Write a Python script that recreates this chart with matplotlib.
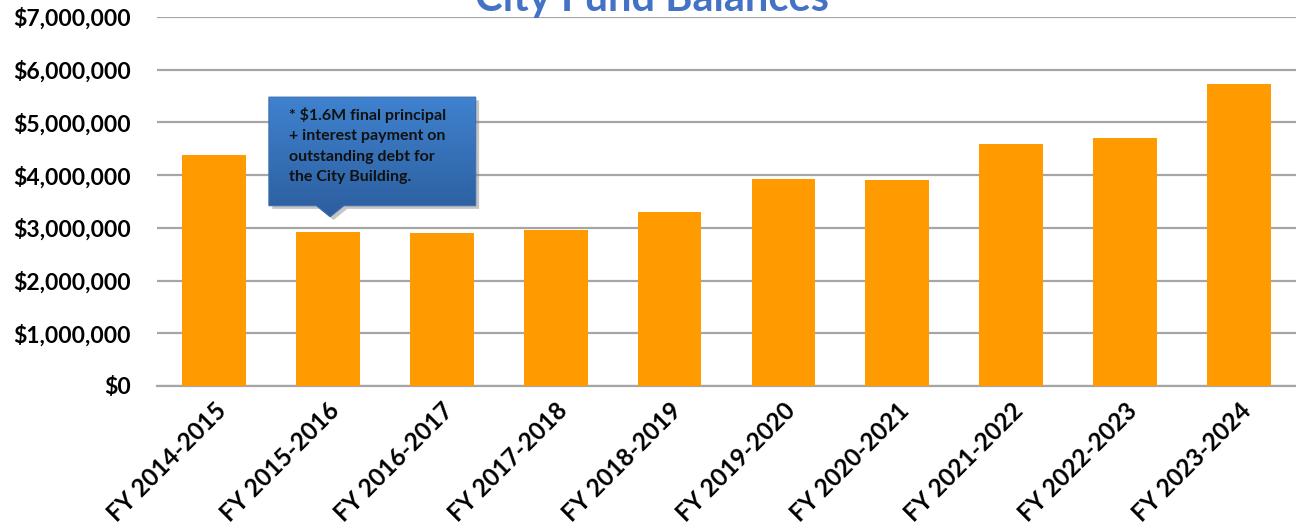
import numpy as np
import matplotlib.pyplot as plt
from matplotlib.patches import Polygon
from matplotlib.ticker import FuncFormatter
from matplotlib.colors import LinearSegmentedColormap

# data
years = ["FY 2014-2015", "FY 2015-2016", "FY 2016-2017", "FY 2017-2018", "FY 2018-2019",
         "FY 2019-2020", "FY 2020-2021", "FY 2021-2022", "FY 2022-2023", "FY 2023-2024"]
balances = [4380000, 2920000, 2900000, 2960000, 3300000,
            3930000, 3910000, 4590000, 4710000, 5730000]
y_ticks = [0, 1000000, 2000000, 3000000, 4000000, 5000000, 6000000, 7000000]
note = "* $1.6M final principal\n+ interest payment on\noutstanding debt for\nthe City Building."

plt.rcParams['font.family'] = ['Lato', 'DejaVu Sans']

fig = plt.figure(figsize=(12.96, 5.29), dpi=100)
ax = fig.add_axes([157/1296, 1-386/529, 1139/1296, 369/529])

x = np.arange(len(years))
ax.bar(x, balances, width=0.56, color='#FF9B00', zorder=3)
ax.set_xlim(-0.5, len(years)-0.5)
ax.set_ylim(0, 7000000)
ax.set_yticks(y_ticks)
ax.yaxis.set_major_formatter(FuncFormatter(lambda v, p: "${:,.0f}".format(v)))
ax.grid(axis='y', color='#A6A6A6', linewidth=1.6, zorder=0)
ax.set_axisbelow(True)
for s in ['top', 'right', 'left']:
    ax.spines[s].set_visible(False)
ax.spines['bottom'].set_color('#A6A6A6')
ax.spines['bottom'].set_linewidth(1.6)
ax.tick_params(length=0)
ax.tick_params(axis='y', pad=19)
for lab in ax.get_yticklabels():
    lab.set_fontsize(16.5)
    lab.set_fontweight('bold')
ax.set_xticks(x)
ax.set_xticklabels(years, rotation=45, ha='right', rotation_mode='anchor',
                   fontsize=17.5, fontweight='bold')
ax.tick_params(axis='x', pad=9)

# title, clipped at the top as in the source
fig.text(0.503, 1-11/529, "City Fund Balances", color='#4472C4', fontsize=30,
         fontweight='bold', ha='center', va='baseline')

# callout with blue gradient
x0, x1 = 0.482, 2.298
y0, y1 = 3420000, 5480000
tipx, tipy = 1.02, 3210000
pts = [(x0, y1), (x1, y1), (x1, y0), (tipx + 0.12, y0), (tipx, tipy),
       (tipx - 0.12, y0), (x0, y0)]
shadow = Polygon([(px + 0.03, py - 60000) for px, py in pts], closed=True,
                 facecolor='#7F7F7F', alpha=0.45, edgecolor='none', zorder=4)
ax.add_patch(shadow)
poly = Polygon(pts, closed=True, facecolor='none', edgecolor='#3C6FAE',
               linewidth=0.8, zorder=6)
ax.add_patch(poly)
grad = np.linspace(0, 1, 256).reshape(-1, 1)
cmap = LinearSegmentedColormap.from_list('callout', ['#2C5E9E', '#3F82CF'])
im = ax.imshow(grad, cmap=cmap, origin='lower', aspect='auto',
               extent=[x0, x1, tipy, y1], zorder=5)
im.set_clip_path(poly)
ax.text(x0 + 0.18, y1 - 180000, note, fontsize=11.5, fontweight='bold',
        color='#111111', va='top', ha='left', linespacing=1.6, zorder=7)

fig.savefig('out.png', dpi=100)
